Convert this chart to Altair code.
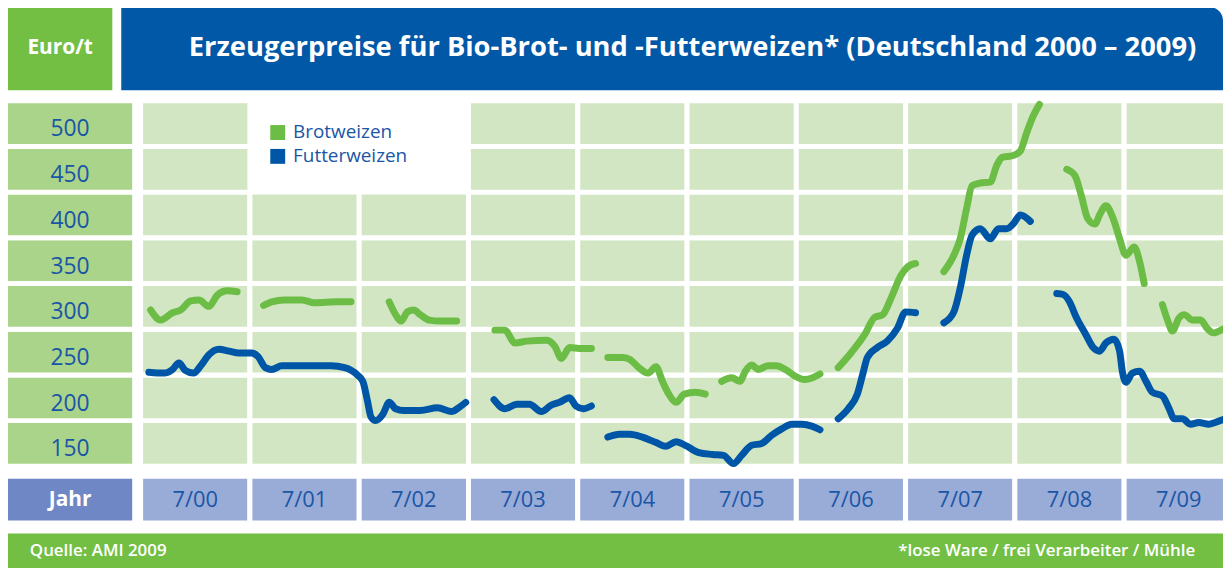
import altair as alt
import pandas as pd

# ---------------- data ----------------
jahre = ["7/00", "7/01", "7/02", "7/03", "7/04", "7/05", "7/06", "7/07", "7/08", "7/09"]
preis_stufen = [150, 200, 250, 300, 350, 400, 450, 500]
sorten = ["Brotweizen", "Futterweizen"]

# month index: 0 = July 2000, 12 = July 2001, ...
brot_monat = [1.1, 2.2, 3.5, 4.4, 5.5, 6.4, 7.5, 8.4, 9.5, 10.6,
              13.5, 14.4, 15.8, 17.7, 19.1, 21.7, 23.1,
              27.3, 28.0, 28.6, 29.3, 30.0, 30.7, 31.7, 32.9, 34.7,
              38.9, 40.0, 41.1, 42.4, 44.6, 45.5, 46.2, 47.1, 48.2, 49.5,
              51.3, 52.9, 53.7, 54.7, 55.7, 56.6, 57.3, 58.0, 58.8, 59.7, 60.9, 62.0,
              63.8, 64.9, 65.8, 66.4, 67.1, 67.8, 68.9, 69.8, 70.8, 71.8, 72.9, 73.8, 74.6,
              76.6, 78.0, 79.5, 80.6, 81.5, 82.4, 83.5, 84.2, 85.1,
              88.2, 89.3, 90.0, 90.7, 91.3, 92.2, 93.3, 94.0, 94.6, 95.8, 96.6, 97.3, 98.0, 98.7,
              101.7, 102.6, 103.3, 104.0, 104.8, 105.3, 106.0, 106.8, 107.5, 108.2, 109.1, 109.7, 110.2,
              112.2, 112.8, 113.3, 114.0, 114.6, 115.5, 116.4, 117.1, 117.8, 118.8]
brot_preis = [296, 285, 293, 296, 306, 307, 300, 312, 317, 316,
              301, 305, 307, 307, 304, 305, 305,
              305, 291, 284, 294, 296, 291, 285, 284, 284,
              274, 274, 260, 262, 263, 256, 243, 255, 254, 254,
              244, 244, 242, 233, 227, 234, 218, 204, 195, 204, 206, 204,
              218, 222, 218, 229, 236, 231, 235, 235, 231, 224, 220, 222, 226,
              233, 249, 269, 288, 291, 309, 334, 343, 347,
              338, 356, 374, 407, 432, 435, 436, 454, 463, 465, 470, 490, 508, 521,
              450, 443, 421, 396, 390, 400, 410, 396, 374, 356, 365, 349, 325,
              302, 284, 273, 287, 291, 285, 285, 276, 271, 275]
brot_abschnitt = ([0] * 10 + [1] * 7 + [2] * 9 + [3] * 10 + [4] * 12 + [5] * 13
                  + [6] * 9 + [7] * 14 + [8] * 13 + [9] * 10)

futter_monat = [0.9, 2.6, 3.5, 4.2, 4.9, 5.8, 6.6, 7.5, 8.6, 9.7, 10.8, 12.2, 12.9, 13.7, 14.4,
                15.5, 18.0, 20.9, 22.4, 23.8, 24.4, 24.9, 25.3, 25.8, 26.6, 27.3, 28.0, 28.9,
                30.7, 32.6, 34.2, 34.9, 35.7,
                38.8, 40.0, 41.3, 42.7, 44.0, 45.1, 46.0, 47.1, 47.8, 48.6, 49.5,
                51.3, 52.6, 53.7, 55.1, 56.6, 57.7, 58.8, 59.8, 61.3, 62.8, 64.0, 65.1, 66.0,
                67.1, 68.2, 69.3, 70.4, 71.5, 72.6, 73.7, 74.6,
                76.6, 77.7, 78.7, 79.3, 79.8, 80.9, 82.0, 83.1, 84.0, 85.1,
                88.2, 89.3, 90.0, 90.7, 91.3, 92.2, 93.3, 94.2, 95.1, 95.8, 96.6, 97.7,
                100.6, 101.3, 102.0, 102.7, 103.8, 104.6, 105.3, 106.0, 106.9, 107.5, 107.8,
                108.2, 108.9, 109.7, 110.4, 111.1, 112.2, 112.9, 113.5, 114.4, 115.3, 116.2,
                117.3, 118.0, 118.8]
futter_preis = [228, 227, 231, 238, 230, 227, 235, 247, 253, 251, 249, 249, 245, 233, 231,
                235, 235, 235, 233, 225, 218, 197, 179, 175, 182, 195, 188, 186,
                186, 189, 185, 189, 195,
                198, 188, 193, 193, 185, 192, 195, 200, 191, 188, 191,
                157, 160, 160, 157, 151, 147, 152, 148, 140, 138, 137, 128, 137,
                148, 150, 159, 166, 171, 171, 169, 165,
                177, 188, 204, 226, 244, 255, 262, 276, 294, 293,
                282, 294, 320, 356, 378, 385, 374, 385, 385, 390, 400, 393,
                314, 313, 305, 289, 269, 255, 251, 260, 264, 251, 229,
                217, 227, 229, 218, 206, 202, 189, 177, 177, 171, 173,
                171, 173, 176]
futter_abschnitt = [0] * 33 + [1] * 11 + [2] * 21 + [3] * 10 + [4] * 12 + [5] * 25

titel = "Erzeugerpreise für Bio-Brot- und -Futterweizen* (Deutschland 2000 – 2009)"
einheit = "Euro/t"
jahr_text = "Jahr"
quelle = "Quelle: AMI 2009"
fussnote = "*lose Ware / frei Verarbeiter / Mühle"

# ---------------- styling ----------------
FONT = "Open Sans"
BLAU_TITEL = "#0058a7"
GRUEN = "#72bf44"
GRUEN_HELL = "#d3e6c3"
GRUEN_MITTEL = "#aad48a"
LINIE_GRUEN = "#6cbd45"
LINIE_BLAU = "#0056a6"
TEXT_BLAU = "#1a56a6"
X_BOX = "#99abd7"
JAHR_BOX = "#6f87c4"

PX_PER_MONAT = 110 / 12
PLOT_W = 1089.5
PLOT_H = 368
PAD_L, PAD_T = 133.5, 91.5
TOTAL_H = 560

xscale = alt.Scale(domain=[0, PLOT_W / PX_PER_MONAT], nice=False, zero=False)
yscale = alt.Scale(domain=[125, 525], nice=False, zero=False)
farbskala = alt.Scale(domain=sorten, range=[LINIE_GRUEN, LINIE_BLAU])

# ---------------- tables ----------------
linien = pd.concat([
    pd.DataFrame({"Monat": brot_monat, "Preis": brot_preis,
                  "Abschnitt": ["B%d" % a for a in brot_abschnitt], "Sorte": sorten[0]}),
    pd.DataFrame({"Monat": futter_monat, "Preis": futter_preis,
                  "Abschnitt": ["F%d" % a for a in futter_abschnitt], "Sorte": sorten[1]}),
], ignore_index=True)

zellen = []
for k, j in enumerate(jahre):
    for s in preis_stufen:
        if k in (1, 2) and s >= 450:
            continue  # legend area
        zellen.append({"x0": 12 * k, "x1": 12 * k + 12, "y0": s - 25, "y1": s + 25})
zellen = pd.DataFrame(zellen)

stufen_df = pd.DataFrame({"Stufe": preis_stufen,
                          "lo": [s - 25 for s in preis_stufen],
                          "hi": [s + 25 for s in preis_stufen],
                          "txt": [str(s) for s in preis_stufen]})
jahre_df = pd.DataFrame({"Jahr": jahre,
                         "x0": [12 * k for k in range(len(jahre))],
                         "x1": [12 * k + 12 for k in range(len(jahre))],
                         "xm": [12 * k + 6 for k in range(len(jahre))]})

X = lambda f: alt.X(f, scale=xscale, axis=None)
Y = lambda f: alt.Y(f, scale=yscale, axis=None)

one = pd.DataFrame({"d": [0]})

# grid cells
cells = alt.Chart(zellen).mark_rect(fill=GRUEN_HELL, stroke="white", strokeWidth=5).encode(
    x=X("x0:Q"), x2="x1:Q", y=Y("y0:Q"), y2="y1:Q")

# y label boxes + labels
ybox = alt.Chart(stufen_df).mark_rect(fill=GRUEN_MITTEL, stroke="white", strokeWidth=5).encode(
    x=alt.value(-136), x2=alt.value(-6), y=Y("lo:Q"), y2="hi:Q")
ytxt = alt.Chart(stufen_df).mark_text(font=FONT, fontSize=23, color=TEXT_BLAU, dy=6,
                                      align="center", baseline="middle").encode(
    x=alt.value(-71), y=Y("Stufe:Q"), text="txt:N")

# x label boxes + labels
xbox = alt.Chart(jahre_df).mark_rect(fill=X_BOX, stroke="white", strokeWidth=5).encode(
    x=X("x0:Q"), x2="x1:Q", y=alt.value(378), y2=alt.value(425))
xtxt = alt.Chart(jahre_df).mark_text(font=FONT, fontSize=22, color=TEXT_BLAU,
                                     align="center", baseline="middle").encode(
    x=X("xm:Q"), y=alt.value(401.5), text="Jahr:N")
jbox = alt.Chart(one).mark_rect(fill=JAHR_BOX, stroke="white", strokeWidth=5).encode(
    x=alt.value(-136), x2=alt.value(-6), y=alt.value(378), y2=alt.value(425))
jtxt = alt.Chart(one).mark_text(font=FONT, fontSize=21, fontWeight="bold", color="white",
                                align="center", baseline="middle", text=jahr_text).encode(
    x=alt.value(-71), y=alt.value(401.5))

# header
ebox = alt.Chart(one).mark_rect(fill=GRUEN).encode(
    x=alt.value(-133.5), x2=alt.value(-28.5), y=alt.value(-94.5), y2=alt.value(-10.5))
etxt = alt.Chart(one).mark_text(font=FONT, fontSize=21, fontWeight="bold", color="white",
                                align="center", baseline="middle", text=einheit).encode(
    x=alt.value(-81), y=alt.value(-53))
tbox = alt.Chart(one).mark_rect(fill=BLAU_TITEL, cornerRadiusTopRight=14).encode(
    x=alt.value(-19.5), x2=alt.value(PLOT_W), y=alt.value(-94.5), y2=alt.value(-10.5))
ttxt = alt.Chart(one).mark_text(font=FONT, fontSize=27.5, fontWeight="bold", color="white",
                                align="left", baseline="middle", text=titel).encode(
    x=alt.value(48.5), y=alt.value(-53))

# footer
fbox = alt.Chart(one).mark_rect(fill=GRUEN).encode(
    x=alt.value(-136), x2=alt.value(PLOT_W + 5), y=alt.value(435.5), y2=alt.value(480))
ftxt1 = alt.Chart(one).mark_text(font=FONT, fontSize=17, fontWeight=600, color="white",
                                 align="left", baseline="middle", text=quelle).encode(
    x=alt.value(-111.5), y=alt.value(453))
ftxt2 = alt.Chart(one).mark_text(font=FONT, fontSize=17, fontWeight=600, color="white",
                                 align="right", baseline="middle", text=fussnote).encode(
    x=alt.value(1061.5), y=alt.value(453))

# lines
lines = alt.Chart(linien).mark_line(strokeWidth=7, strokeCap="round", strokeJoin="round",
                                    interpolate="monotone").encode(
    x=X("Monat:Q"), y=Y("Preis:Q"),
    color=alt.Color("Sorte:N", scale=farbskala, legend=None),
    detail="Abschnitt:N")

# legend (drawn as marks, colour from the shared colour scale)
legend_df = pd.DataFrame({"Sorte": sorten})
leg_layers = []
for i, s in enumerate(sorten):
    base = alt.Chart(legend_df).transform_filter(alt.datum.Sorte == s)
    leg_layers.append(base.mark_square(size=225, opacity=1).encode(
        x=alt.value(138), y=alt.value(32 + 24 * i),
        color=alt.Color("Sorte:N", scale=farbskala, legend=None)))
    leg_layers.append(base.mark_text(font=FONT, fontSize=19, color=TEXT_BLAU,
                                     align="left", baseline="middle").encode(
        x=alt.value(153.5), y=alt.value(32 + 24 * i), text="Sorte:N"))

chart = alt.layer(
    ebox, tbox, etxt, ttxt,
    ybox, ytxt, cells,
    xbox, jbox, xtxt, jtxt,
    fbox, ftxt1, ftxt2,
    lines, *leg_layers,
).properties(
    width=PLOT_W, height=PLOT_H,
    padding={"left": PAD_L, "top": PAD_T, "right": 0, "bottom": TOTAL_H - PAD_T - PLOT_H},
    autosize=alt.AutoSizeParams(type="none"),
    background="white",
).configure_view(stroke=None)

chart.save("out.html", embed_options={"renderer": "svg", "actions": False})
